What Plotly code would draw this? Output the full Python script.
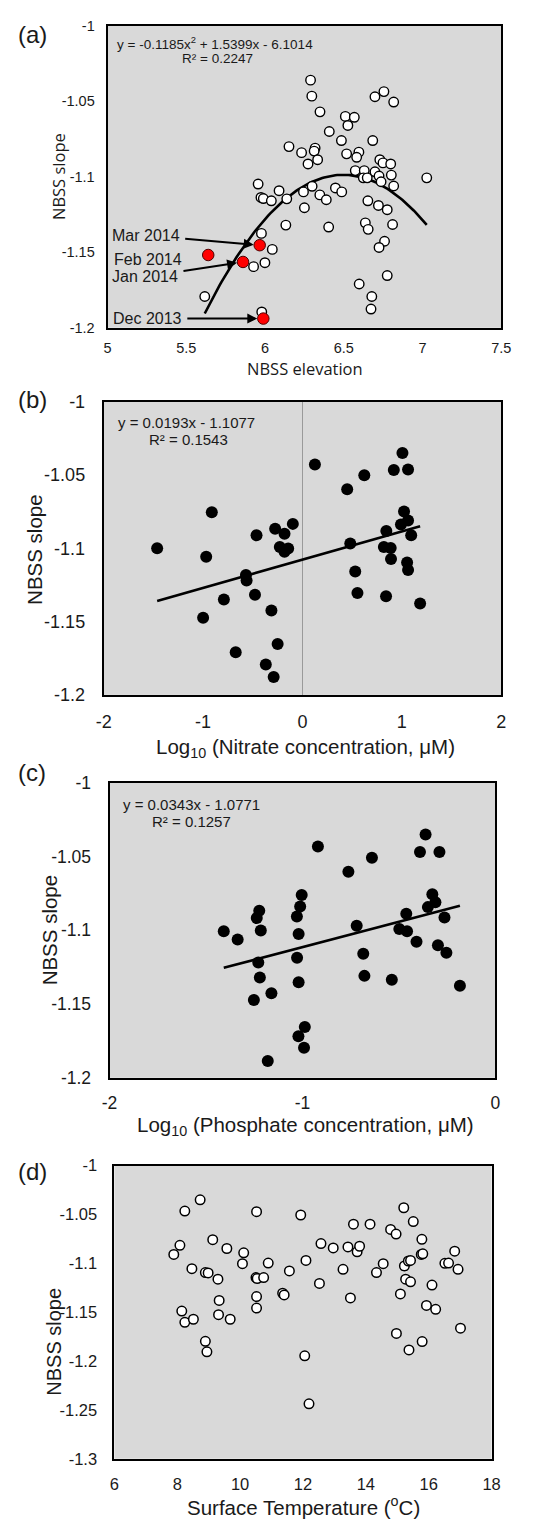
import plotly.graph_objects as go
import numpy as np

# ---------------- data ----------------
# Panel (a): NBSS elevation vs NBSS slope (white points)
a_elev = [6.289, 6.297, 6.349, 6.698, 6.755, 6.817, 6.510, 6.567, 6.526, 6.408,
          6.485, 6.684, 6.152, 6.232, 6.318, 6.312, 6.334, 6.273, 6.518, 6.596,
          6.582, 6.729, 6.749, 6.798, 6.573, 6.630, 6.624, 6.649, 6.698, 6.724,
          6.802, 6.737, 6.817, 7.027, 5.956, 5.974, 5.989, 6.040, 6.089, 6.138,
          6.244, 6.299, 6.348, 6.389, 6.447, 6.487, 6.250, 6.653, 6.720, 6.776,
          6.132, 6.404, 6.637, 6.655, 6.810, 5.977, 6.046, 6.759, 6.724, 5.927,
          5.999, 6.776, 6.598, 6.678, 6.673, 5.617, 5.979]
a_slope = [-1.0360, -1.0466, -1.0570, -1.0470, -1.0436, -1.0505, -1.0600, -1.0606, -1.0660, -1.0700,
           -1.0760, -1.0760, -1.0800, -1.0840, -1.0810, -1.0830, -1.0887, -1.0915, -1.0848, -1.0837,
           -1.0871, -1.0887, -1.0908, -1.0915, -1.0959, -1.0959, -1.1007, -1.1007, -1.0967, -1.0995,
           -1.0989, -1.1033, -1.1061, -1.1007, -1.1048, -1.1137, -1.1144, -1.1159, -1.1092, -1.1146,
           -1.1100, -1.1063, -1.1120, -1.1152, -1.1074, -1.1100, -1.1205, -1.1159, -1.1190, -1.1218,
           -1.1320, -1.1333, -1.1305, -1.1348, -1.1316, -1.1375, -1.1481, -1.1427, -1.1468, -1.1595,
           -1.1569, -1.1654, -1.1710, -1.1793, -1.1876, -1.1793, -1.1895]
# highlighted months (red)
a_red_labels = ["Dec 2013", "Jan 2014", "Feb 2014", "Mar 2014"]
a_red_elev = [5.989, 5.860, 5.639, 5.966]
a_red_slope = [-1.1939, -1.1564, -1.1518, -1.1453]
a_coef = [-0.1185, 1.5399, -6.1014]
a_eq = ["y = -0.1185x<sup>2</sup> + 1.5399x - 6.1014", "R² = 0.2247"]

# Panel (b): log10 nitrate vs NBSS slope
b_logno3 = [-1.4625, -0.9125, -0.969, -0.4625, -0.275, -0.181, -0.097, -0.228, -0.181, -0.144,
            -0.569, -0.5625, -0.791, -0.478, -0.3125, -1.000, -0.250, -0.672, -0.369, -0.290,
            0.125, 0.450, 0.622, 0.919, 1.006, 1.0625, 1.022, 1.0625, 0.991, 0.844,
            1.094, 0.481, 0.819, 0.8875, 0.891, 0.531, 1.053, 1.0625, 0.553, 0.841, 1.184]
b_slope = [-1.1000, -1.0754, -1.1057, -1.0911, -1.0866, -1.0900, -1.0833, -1.0990, -1.1024, -1.1001,
           -1.1181, -1.1219, -1.1349, -1.1316, -1.1424, -1.1473, -1.1653, -1.1709, -1.1792, -1.1878,
           -1.0428, -1.0597, -1.0502, -1.0466, -1.0349, -1.0462, -1.0749, -1.0810, -1.0837, -1.0882,
           -1.0911, -1.0967, -1.0990, -1.0997, -1.1073, -1.1158, -1.1096, -1.1147, -1.1305, -1.1327, -1.1376]
b_coef = [0.0193, -1.1077]
b_eq = ["y = 0.0193x - 1.1077", "R² = 0.1543"]

# Panel (c): log10 phosphate vs NBSS slope
c_logpo4 = [-1.408, -1.336, -1.224, -1.237, -1.216, -1.229, -1.221, -1.161, -1.252, -1.180,
            -1.004, -1.012, -1.029, -1.020, -1.028, -1.020, -0.988, -1.021, -0.992, -0.920,
            -0.762, -0.640, -0.719, -0.685, -0.679, -0.537, -0.462, -0.498, -0.458, -0.409,
            -0.362, -0.391, -0.290, -0.327, -0.311, -0.350, -0.264, -0.298, -0.254, -0.184]
c_slope = [-1.1007, -1.1063, -1.0868, -1.0917, -1.1002, -1.1219, -1.1320, -1.1427, -1.1472, -1.1886,
           -1.0761, -1.0839, -1.0906, -1.1025, -1.1186, -1.1353, -1.1655, -1.1718, -1.1796, -1.0432,
           -1.0604, -1.0508, -1.0969, -1.1159, -1.1309, -1.1336, -1.0888, -1.0991, -1.1007, -1.1078,
           -1.0351, -1.0470, -1.0470, -1.0756, -1.0810, -1.0843, -1.0913, -1.1101, -1.1152, -1.1376]
c_coef = [0.0343, -1.0771]
c_eq = ["y = 0.0343x - 1.0771", "R² = 0.1257"]

# Panel (d): surface temperature vs NBSS slope
d_temp = [7.890, 8.085, 8.241, 8.729, 8.466, 8.144, 8.241, 8.514, 8.895, 8.944,
          9.129, 8.895, 8.983, 9.295, 9.578, 9.334, 9.314, 9.685, 10.114, 10.075,
          10.524, 10.505, 10.544, 10.749, 10.524, 10.524, 10.895, 11.353, 11.402, 11.568,
          11.929, 12.095, 12.056, 12.192, 12.524, 12.573, 12.963, 13.275, 13.431, 13.510,
          13.607, 13.724, 13.802, 14.134, 14.339, 14.553, 14.788, 14.963, 14.973, 15.100,
          15.207, 15.227, 15.353, 15.422, 15.266, 15.422, 15.373, 15.510, 15.783, 15.763,
          15.812, 15.792, 15.929, 16.105, 16.222, 16.515, 16.632, 16.827, 16.934, 17.012]
d_slope = [-1.0909, -1.0815, -1.0465, -1.0350, -1.1054, -1.1488, -1.1603, -1.1572, -1.1798, -1.1906,
           -1.0758, -1.1094, -1.1098, -1.1162, -1.0848, -1.1380, -1.1525, -1.1572, -1.0892, -1.1003,
           -1.0471, -1.1145, -1.1155, -1.1145, -1.1340, -1.1458, -1.0997, -1.1306, -1.1323, -1.1077,
           -1.0505, -1.0970, -1.1946, -1.2438, -1.1205, -1.0798, -1.0842, -1.1061, -1.0832, -1.1354,
           -1.0599, -1.0882, -1.0825, -1.0599, -1.1094, -1.1003, -1.0653, -1.0700, -1.1717, -1.1313,
           -1.0431, -1.1027, -1.0976, -1.0970, -1.1162, -1.1189, -1.1886, -1.0572, -1.0754, -1.0909,
           -1.0902, -1.1801, -1.1431, -1.1222, -1.1471, -1.1000, -1.0997, -1.0875, -1.1061, -1.1663]

# tick labels
slope_ticks_a = [-1.2, -1.15, -1.1, -1.05, -1.0]
slope_ticktext_a = ["-1.2", "-1.15", "-1.1", "-1.05", "-1"]
slope_ticks_d = [-1.3, -1.25, -1.2, -1.15, -1.1, -1.05, -1.0]
slope_ticktext_d = ["-1.3", "-1.25", "-1.2", "-1.15", "-1.1", "-1.05", "-1"]
elev_ticks = [5, 5.5, 6, 6.5, 7, 7.5]
elev_ticktext = ["5", "5.5", "6", "6.5", "7", "7.5"]
no3_ticks = [-2, -1, 0, 1, 2]
no3_ticktext = ["-2", "-1", "0", "1", "2"]
po4_ticks = [-2, -1, 0]
po4_ticktext = ["-2", "-1", "0"]
temp_ticks = [6, 8, 10, 12, 14, 16, 18]
temp_ticktext = ["6", "8", "10", "12", "14", "16", "18"]

# ---------------- layout helpers ----------------
W, H = 547, 1526
ARIAL = "Arial, Liberation Sans, sans-serif"
OPEN = "Open Sans, Noto Sans, sans-serif"
TXT = "#1a1a1a"
BG = "#d9d9d9"


def px(x):
    return x / W


def py(y):
    return 1 - y / H


fig = go.Figure()

# ---- traces ----
# (a)
qx = np.linspace(min(a_elev + a_red_elev), max(a_elev + a_red_elev), 120)
qy = a_coef[0] * qx ** 2 + a_coef[1] * qx + a_coef[2]
fig.add_trace(go.Scatter(x=qx, y=qy, mode="lines", line=dict(color="black", width=2.6),
                         xaxis="x", yaxis="y", hoverinfo="skip"))
fig.add_trace(go.Scatter(x=a_elev, y=a_slope, mode="markers",
                         marker=dict(size=9.5, color="white", line=dict(color="black", width=1.4)),
                         xaxis="x", yaxis="y"))
fig.add_trace(go.Scatter(x=a_red_elev, y=a_red_slope, mode="markers",
                         marker=dict(size=11.5, color="#ff0000", line=dict(color="#500000", width=1)),
                         xaxis="x", yaxis="y"))

# (b)
bx = np.array([min(b_logno3), max(b_logno3)])
fig.add_trace(go.Scatter(x=bx, y=b_coef[0] * bx + b_coef[1], mode="lines",
                         line=dict(color="black", width=2.6), xaxis="x2", yaxis="y2"))
fig.add_trace(go.Scatter(x=b_logno3, y=b_slope, mode="markers",
                         marker=dict(size=12, color="black"), xaxis="x2", yaxis="y2"))

# (c)
cx = np.array([min(c_logpo4), max(c_logpo4)])
fig.add_trace(go.Scatter(x=cx, y=c_coef[0] * cx + c_coef[1], mode="lines",
                         line=dict(color="black", width=2.6), xaxis="x3", yaxis="y3"))
fig.add_trace(go.Scatter(x=c_logpo4, y=c_slope, mode="markers",
                         marker=dict(size=12, color="black"), xaxis="x3", yaxis="y3"))

# (d)
fig.add_trace(go.Scatter(x=d_temp, y=d_slope, mode="markers",
                         marker=dict(size=9.5, color="white", line=dict(color="black", width=1.5)),
                         xaxis="x4", yaxis="y4"))


def axis(domain, rng, tv, tt, size, tlen, anchor, **kw):
    d = dict(domain=domain, range=rng, tickvals=tv, ticktext=tt, showline=True, mirror=True,
             linecolor="black", linewidth=2, showgrid=False, zeroline=False, ticks="outside",
             ticklen=tlen, tickcolor="rgba(0,0,0,0)", tickfont=dict(family=ARIAL, size=size, color=TXT),
             anchor=anchor, fixedrange=True)
    d.update(kw)
    return d


panels = {
    "a": dict(l=103, r=510, t=16, b=322),
    "b": dict(l=99, r=510, t=397, b=694),
    "c": dict(l=105, r=504, t=783, b=1082),
    "d": dict(l=110, r=500, t=1171, b=1468),
}


def xd(p):
    return [px(panels[p]["l"]), px(panels[p]["r"])]


def yd(p):
    return [py(panels[p]["b"]), py(panels[p]["t"])]


fig.update_layout(
    width=W, height=H, margin=dict(l=0, r=0, t=0, b=0),
    paper_bgcolor="white", plot_bgcolor=BG, showlegend=False,
    xaxis=axis(xd("a"), [5, 7.5], elev_ticks, elev_ticktext, 14.5, 6, "y"),
    yaxis=axis(yd("a"), [-1.2, -1.0], slope_ticks_a, slope_ticktext_a, 14.5, 8, "x"),
    xaxis2=axis(xd("b"), [-2, 2], no3_ticks, no3_ticktext, 18, 9, "y2",
                zeroline=True, zerolinecolor="#9a9a9a", zerolinewidth=1),
    yaxis2=axis(yd("b"), [-1.2, -1.0], slope_ticks_a, slope_ticktext_a, 18, 13, "x2"),
    xaxis3=axis(xd("c"), [-2, 0], po4_ticks, po4_ticktext, 17.5, 8, "y3"),
    yaxis3=axis(yd("c"), [-1.2, -1.0], slope_ticks_a, slope_ticktext_a, 17.5, 13, "x3"),
    xaxis4=axis(xd("d"), [6, 18], temp_ticks, temp_ticktext, 16.5, 9, "y4"),
    yaxis4=axis(yd("d"), [-1.3, -1.0], slope_ticks_d, slope_ticktext_d, 16.5, 12, "x4"),
)

ann = []


def txt(text, x, y, size, family=ARIAL, angle=0, xanchor="center"):
    ann.append(dict(text=text, x=px(x), y=py(y), xref="paper", yref="paper", showarrow=False,
                    xanchor=xanchor, yanchor="middle", textangle=angle,
                    font=dict(family=family, size=size, color=TXT)))


# panel letters
txt("(a)", 25, 25, 24)
txt("(b)", 25, 395, 24)
txt("(c)", 25, 773, 24)
txt("(d)", 25, 1177, 24)

# axis titles
txt("NBSS elevation", 307, 363, 16.5, family=OPEN)
txt("NBSS slope", 53, 169, 16.5, family=OPEN, angle=-90)
txt("Log<sub>10</sub> (Nitrate concentration, μM)", 308, 748, 20.5)
txt("NBSS slope", 28, 547, 20.5, angle=-90)
txt("Log<sub>10</sub> (Phosphate concentration, μM)", 308, 1131, 20.5)
txt("NBSS slope", 43, 932, 20.5, angle=-90)
txt("Surface Temperature (<sup>o</sup>C)", 306, 1516, 20.5)
txt("NBSS slope", 48, 1349, 20, angle=-90)

# equations
txt(a_eq[0], 214, 33, 13.5)
txt(a_eq[1], 217, 49, 13.5)
txt(b_eq[0], 185, 418, 15)
txt(b_eq[1], 187, 435, 15)
txt(c_eq[0], 190, 805, 15)
txt(c_eq[1], 190, 822, 15)

# month labels with arrows (offsets in pixels from the pointed data point)
arrow_offsets = {"Dec 2013": (-116, 0), "Jan 2014": (-98, 15), "Mar 2014": (-114, -10)}
for lab, xv, yv in zip(a_red_labels, a_red_elev, a_red_slope):
    if lab in arrow_offsets:
        axo, ayo = arrow_offsets[lab]
        ann.append(dict(text=lab, x=xv, y=yv, xref="x", yref="y", showarrow=True,
                        ax=axo, ay=ayo, arrowhead=2, arrowsize=1, arrowwidth=2,
                        arrowcolor="black", standoff=6, startstandoff=4,
                        font=dict(family=ARIAL, size=16, color=TXT)))
    else:
        ann.append(dict(text=lab, x=xv, y=yv, xref="x", yref="y", showarrow=False,
                        xshift=-60, yshift=-4,
                        font=dict(family=ARIAL, size=16, color=TXT)))

fig.update_layout(annotations=ann)
fig.write_html("out.html")
